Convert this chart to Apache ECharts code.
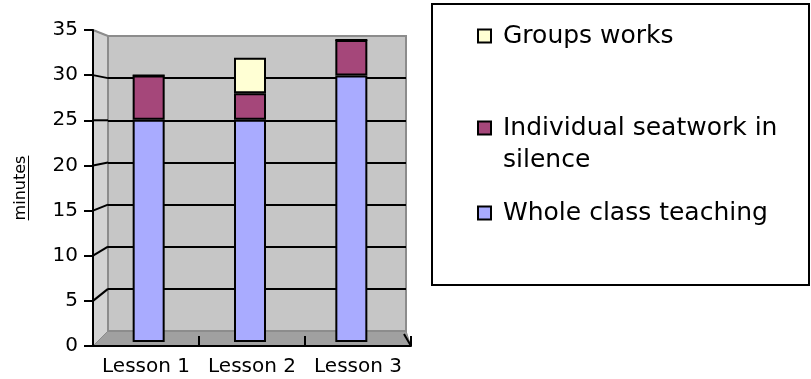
<!DOCTYPE html>
<html>
<head>
<meta charset="utf-8">
<script src="https://cdn.jsdelivr.net/npm/echarts@6/dist/echarts.min.js"></script>
<style>
  html, body { margin: 0; padding: 0; background: #fff; }
  #chart { width: 811px; height: 379px; }
</style>
</head>
<body>
<div id="chart"></div>
<script>
// Minutes spent per activity in each lesson (stacked)
const lessons = ['Lesson 1', 'Lesson 2', 'Lesson 3'];
const wholeClassTeaching = [25, 25, 30];
const individualSeatwork = [5, 3, 4];
const groupsWorks = [0, 4, 0];
const seriesNames = ['Whole class teaching', 'Individual seatwork in silence', 'Groups works'];
const yMax = 35;
const yStep = 5;

const FONT = 'DejaVu Sans';
const colors = ['#a9abff', '#a5477a', '#ffffd4'];

// layout of the pseudo-3D box
const WALL = { left: 108, right: 406, top: 36, bottom: 48 };   // back wall
const FRONT = { left: 93, right: 400, top: 30, bottom: 33 };    // front axis frame
const BARS = { left: 98, right: 402, top: 31, bottom: 37 };     // bars, mid depth
const W = 811;
const LEGEND_FONT = 25;
const LEGEND_LINE = 32;

const chart = echarts.init(document.getElementById('chart'), null, { renderer: 'canvas' });

const measureCtx = document.createElement('canvas').getContext('2d');
function textWidth(str, size) {
  measureCtx.font = size + 'px "' + FONT + '"';
  return measureCtx.measureText(str).width;
}

// wrap a legend name into lines no wider than maxW; the block is padded with
// leading blank lines so that the icon (centred on the block) sits on line one
function wrapForLegend(name, maxW) {
  const words = name.split(' ');
  const lines = [];
  let cur = '';
  words.forEach(w => {
    const next = cur ? cur + ' ' + w : w;
    if (cur && textWidth(next, LEGEND_FONT) > maxW) { lines.push(cur); cur = w; }
    else cur = next;
  });
  lines.push(cur);
  if (lines.length === 1) return name;
  const pad = [];
  for (let i = 1; i < lines.length; i++) pad.push(' ');
  return pad.join('\n') + '\n' + lines.join('\n');
}

function barSeries(name, data, color) {
  return {
    name: name,
    type: 'bar',
    stack: 'minutes',
    xAxisIndex: 2,
    yAxisIndex: 2,
    barWidth: 32,
    data: data,
    itemStyle: { color: color, borderColor: '#000', borderWidth: 2 },
    emphasis: { disabled: true },
    z: 3
  };
}

const legendCommon = {
  orient: 'vertical',
  left: 472,
  itemWidth: 13,
  itemHeight: 13,
  icon: 'rect',
  selectedMode: false,
  formatter: name => wrapForLegend(name, 290),
  itemStyle: { borderColor: '#000', borderWidth: 2 },
  textStyle: { fontFamily: FONT, fontSize: LEGEND_FONT, color: '#000', lineHeight: LEGEND_LINE, padding: [0, 0, 0, 7] }
};

const wallSplitColors = ['#8c8c8c'];
for (let v = yStep; v < yMax; v += yStep) wallSplitColors.push('#000');
wallSplitColors.push('#8c8c8c');

chart.setOption({
  animation: false,
  backgroundColor: '#fff',
  grid: [
    { left: WALL.left, right: W - WALL.right, top: WALL.top, bottom: WALL.bottom,
      show: true, backgroundColor: '#c6c6c6', borderColor: '#8c8c8c', borderWidth: 2 },
    { left: FRONT.left, right: FRONT.right, top: FRONT.top, bottom: FRONT.bottom },
    { left: BARS.left, right: W - BARS.right, top: BARS.top, bottom: BARS.bottom }
  ],
  xAxis: [
    { type: 'category', gridIndex: 0, data: lessons, show: false },
    { type: 'category', gridIndex: 1, data: lessons, z: 6,
      axisLine: { lineStyle: { color: '#000', width: 2 } },
      axisTick: { show: true, inside: true, length: 10, interval: 0, lineStyle: { color: '#000', width: 2 } },
      axisLabel: { interval: 0, fontFamily: FONT, fontSize: 20, color: '#000', margin: 10, lineHeight: 22 } },
    { type: 'category', gridIndex: 2, data: lessons, show: false }
  ],
  yAxis: [
    { type: 'value', gridIndex: 0, min: 0, max: yMax, interval: yStep,
      axisLine: { show: false }, axisTick: { show: false }, axisLabel: { show: false },
      splitLine: { show: true, lineStyle: { color: wallSplitColors, width: 2 } } },
    { type: 'value', gridIndex: 1, min: 0, max: yMax, interval: yStep, z: 6,
      name: 'minutes', nameLocation: 'middle', nameRotate: 90, nameGap: 64,
      nameTextStyle: { fontFamily: FONT, fontSize: 16, color: '#000' },
      axisLine: { show: true, lineStyle: { color: '#000', width: 2 } },
      axisTick: { show: true, length: 9, lineStyle: { color: '#000', width: 2 } },
      axisLabel: { fontFamily: FONT, fontSize: 20, color: '#000', margin: 15 },
      splitLine: { show: false } },
    { type: 'value', gridIndex: 2, min: 0, max: yMax, interval: yStep, show: false,
      splitLine: { show: false } }
  ],
  legend: [
    Object.assign({}, legendCommon, { data: [seriesNames[2]], top: 15 }),
    Object.assign({}, legendCommon, { data: [seriesNames[1]], top: 75 }),
    Object.assign({}, legendCommon, { data: [seriesNames[0]], top: 192 })
  ],
  series: [
    barSeries(seriesNames[0], wholeClassTeaching, colors[0]),
    barSeries(seriesNames[1], individualSeatwork, colors[1]),
    barSeries(seriesNames[2], groupsWorks, colors[2])
  ]
});

// side wall, floor and depth edges, derived from the two value scales
const yFront = v => chart.convertToPixel({ yAxisIndex: 1 }, v);
const yBack = v => chart.convertToPixel({ yAxisIndex: 0 }, v);
const frontRightX = W - FRONT.right;

const elements = [
  { type: 'polygon', z: -1, silent: true,
    shape: { points: [[FRONT.left, yFront(yMax)], [WALL.left, yBack(yMax)], [WALL.left, yBack(0)], [FRONT.left, yFront(0)]] },
    style: { fill: '#d3d3d3', stroke: '#8c8c8c', lineWidth: 1 } },
  { type: 'polygon', z: -1, silent: true,
    shape: { points: [[WALL.left, yBack(0)], [WALL.right, yBack(0)], [frontRightX, yFront(0)], [FRONT.left, yFront(0)]] },
    style: { fill: '#a0a0a0', stroke: '#8c8c8c', lineWidth: 1 } },
  { type: 'line', z: 5, silent: true,
    shape: { x1: frontRightX, y1: yFront(0), x2: WALL.right - 2, y2: yBack(0) + 3 },
    style: { stroke: '#000', lineWidth: 2 } },
  { type: 'line', z: 1, silent: true,
    shape: { x1: FRONT.left, y1: yFront(yMax), x2: WALL.left, y2: yBack(yMax) },
    style: { stroke: '#8c8c8c', lineWidth: 2 } }
];
for (let v = yStep; v < yMax; v += yStep) {
  elements.push({ type: 'line', z: 2, silent: true,
    shape: { x1: FRONT.left, y1: yFront(v), x2: WALL.left, y2: yBack(v) },
    style: { stroke: '#000', lineWidth: 2 } });
}

// underline under the rotated axis title
const titleLen = textWidth('minutes', 16);
const midY = (yFront(0) + yFront(yMax)) / 2;
const ulX = Math.round(FRONT.left - 64) - 0.5;
elements.push({ type: 'line', z: 5, silent: true,
  shape: { x1: ulX, y1: midY - titleLen / 2, x2: ulX, y2: midY + titleLen / 2 },
  style: { stroke: '#000', lineWidth: 1 } });

// legend frame
elements.push({ type: 'rect', z: 0, silent: true,
  shape: { x: 432, y: 4, width: 377, height: 281 },
  style: { fill: 'transparent', stroke: '#000', lineWidth: 2 } });

chart.setOption({ graphic: { elements: elements } });
</script>
</body>
</html>
